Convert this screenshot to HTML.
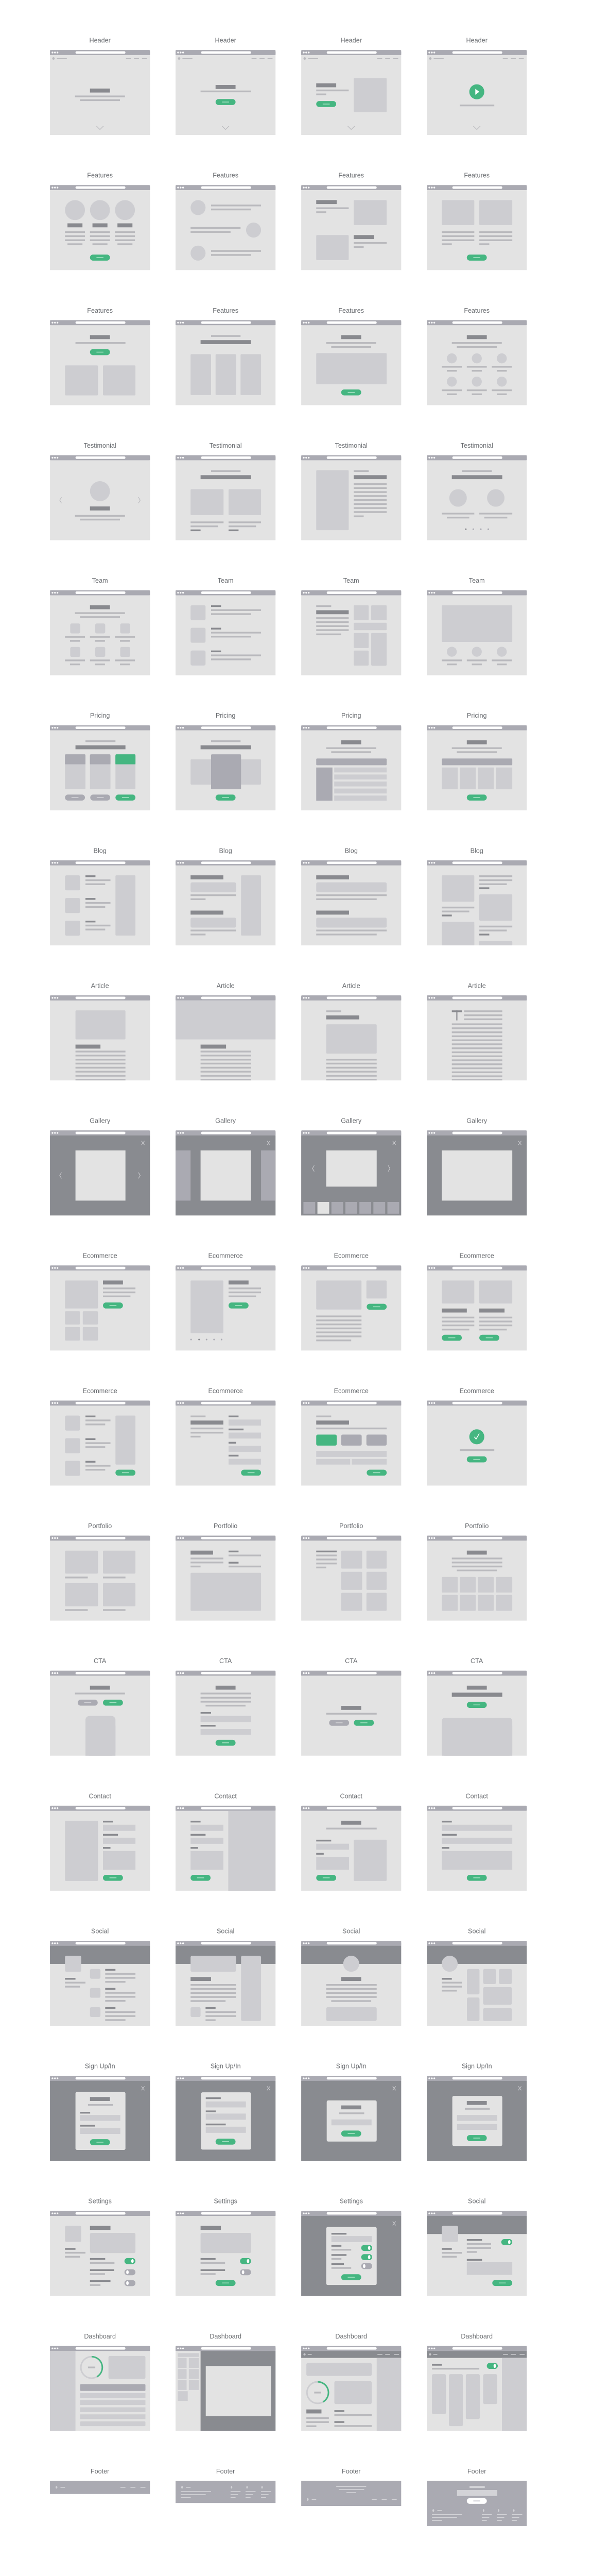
<!DOCTYPE html>
<html><head><meta charset="utf-8"><style>
html,body{margin:0;padding:0;background:#fff;width:100%;height:100%;overflow:hidden}
svg{display:block;position:fixed;left:0;top:0;width:100vw;height:100vh}
.w{fill:#e3e3e3}.b{fill:#aaaab2}.d{fill:#898a8f}.l{fill:#b9b9bd}.p{fill:#cdcdd1}.g{fill:#45b681}.o{fill:#898b90}.lt{fill:#d3d3d7}
text{font-family:"Liberation Sans",sans-serif;font-size:13px;fill:#6b6e72;text-anchor:middle}
</style></head><body>
<svg viewBox="0 0 1150 5150" preserveAspectRatio="xMinYMin meet" xmlns="http://www.w3.org/2000/svg">
<defs>
<g id="c"><rect class="w" width="200" height="170"/><rect class="b" width="200" height="10" rx="2"/><rect class="b" y="4" width="200" height="6"/><circle cx="5" cy="5" r="1.7" fill="#fff"/><circle cx="10" cy="5" r="1.7" fill="#fff"/><circle cx="15" cy="5" r="1.7" fill="#fff"/><rect x="51" y="2.5" width="100" height="5" rx="2.5" fill="#fff"/></g>
<g id="n"><circle cx="7" cy="17" r="2.5" class="l"/><rect class="l" x="13.7" y="16.2" width="20" height="1.6"/><rect class="l" x="152" y="16.2" width="10" height="1.6"/><rect class="l" x="168" y="16.2" width="10" height="1.6"/><rect class="l" x="184" y="16.2" width="10" height="1.6"/></g>
<g id="dn"><rect class="o" x="0" y="10" width="200" height="14"/><circle cx="6.6" cy="17" r="2.2" fill="#c9c9cc"/><rect fill="#c9c9cc" x="13" y="16.2" width="8" height="1.6"/><rect fill="#c9c9cc" x="152.5" y="16.2" width="10" height="1.6"/><rect fill="#c9c9cc" x="168" y="16.2" width="10" height="1.6"/><rect fill="#c9c9cc" x="185.7" y="16.2" width="10" height="1.6"/></g>
<g id="bg"><rect class="g" width="40" height="12" rx="6"/><rect x="13" y="5.2" width="14" height="1.6" fill="#a8e2c5"/></g>
<g id="bb"><rect class="b" width="40" height="12" rx="6"/><rect x="13" y="5.2" width="14" height="1.6" fill="#d4d4d8"/></g>
<path id="ch" d="M93 152 L100 159 L107 152" fill="none" stroke="#b9b9bd" stroke-width="1.2"/>
<path id="x" d="M183 21 L189 29 M189 21 L183 29" stroke="#c8c8cc" stroke-width="1.2" fill="none"/>
<g id="ton"><rect class="g" width="22" height="12" rx="6"/><ellipse cx="16" cy="6" rx="2.5" ry="4" fill="#fff"/></g>
<g id="tof"><rect class="b" width="22" height="12" rx="6"/><ellipse cx="6" cy="6" rx="2.5" ry="4" fill="#fff"/></g>
<path id="cl" d="M23 84 L19.5 90 L23 96" fill="none" stroke="#b9b9bd" stroke-width="1.2"/>
<path id="cr" d="M177 84 L180.5 90 L177 96" fill="none" stroke="#b9b9bd" stroke-width="1.2"/>
</defs>

<text x="200" y="85">Header</text><text x="451.3" y="85">Header</text><text x="702.7" y="85">Header</text><text x="954" y="85">Header</text>
<g transform="translate(100 100)"><use href="#c"/><use href="#n"/><rect class="d" x="80" y="77" width="40" height="8"/><rect class="l" x="50" y="91" width="100" height="3.5"/><rect class="l" x="60" y="98.5" width="80" height="3.5"/><use href="#ch"/></g>
<g transform="translate(351.3 100)"><use href="#c"/><use href="#n"/><rect class="d" x="80" y="70" width="40" height="8"/><rect class="l" x="50" y="81" width="101" height="3.5"/><use href="#bg" x="80" y="98"/><use href="#ch"/></g>
<g transform="translate(602.7 100)"><use href="#c"/><use href="#n"/><rect class="d" x="30" y="66.5" width="40" height="8"/><rect class="l" x="30" y="79" width="65" height="3.5"/><rect class="l" x="30" y="87" width="20" height="3.5"/><use href="#bg" x="30" y="102"/><rect class="p" x="105" y="56" width="66" height="68" rx="2"/><use href="#ch"/></g>
<g transform="translate(854 100)"><use href="#c"/><use href="#n"/><circle class="g" cx="100" cy="83.5" r="15"/><polygon points="97,77.5 97,89.5 105,83.5" fill="#fff"/><rect class="l" x="66" y="109" width="69" height="3.5"/><use href="#ch"/></g>

<text x="200" y="355">Features</text><text x="451.3" y="355">Features</text><text x="702.7" y="355">Features</text><text x="954" y="355">Features</text>
<g transform="translate(100 370)"><use href="#c"/>
<circle class="p" cx="50" cy="50" r="20"/><circle class="p" cx="100" cy="50" r="20"/><circle class="p" cx="150" cy="50" r="20"/>
<rect class="d" x="35" y="76.5" width="30" height="8"/><rect class="d" x="85" y="76.5" width="30" height="8"/><rect class="d" x="135" y="76.5" width="30" height="8"/>
<rect class="l" x="30" y="92.3" width="40" height="3.5"/><rect class="l" x="80" y="92.3" width="40" height="3.5"/><rect class="l" x="130" y="92.3" width="40" height="3.5"/>
<rect class="l" x="30" y="100.4" width="40" height="3.5"/><rect class="l" x="80" y="100.4" width="40" height="3.5"/><rect class="l" x="130" y="100.4" width="40" height="3.5"/>
<rect class="l" x="30" y="108.5" width="40" height="3.5"/><rect class="l" x="80" y="108.5" width="40" height="3.5"/><rect class="l" x="130" y="108.5" width="40" height="3.5"/>
<rect class="l" x="35" y="116.5" width="30" height="3.5"/><rect class="l" x="85" y="116.5" width="30" height="3.5"/><rect class="l" x="135" y="116.5" width="30" height="3.5"/>
<use href="#bg" x="80" y="139"/></g>
<g transform="translate(351.3 370)"><use href="#c"/>
<circle class="p" cx="45" cy="45" r="15"/><rect class="l" x="71" y="39" width="100" height="3.5"/><rect class="l" x="71" y="47" width="80" height="3.5"/>
<rect class="l" x="30" y="84" width="100" height="3.5"/><rect class="l" x="30" y="92" width="80" height="3.5"/><circle class="p" cx="156" cy="90" r="15"/>
<circle class="p" cx="45" cy="136" r="15"/><rect class="l" x="71" y="130" width="100" height="3.5"/><rect class="l" x="71" y="138" width="80" height="3.5"/></g>
<g transform="translate(602.7 370)"><use href="#c"/>
<rect class="d" x="30" y="30" width="41" height="8"/><rect class="l" x="30" y="44.5" width="65" height="3.5"/><rect class="l" x="30" y="52.5" width="20" height="3.5"/><rect class="p" x="105" y="30" width="66" height="50" rx="2"/>
<rect class="p" x="30" y="100" width="65" height="50" rx="2"/><rect class="d" x="105" y="100" width="41" height="8"/><rect class="l" x="105" y="114" width="66" height="3.5"/><rect class="l" x="105" y="122" width="20" height="3.5"/></g>
<g transform="translate(854 370)"><use href="#c"/>
<rect class="p" x="30" y="30" width="65" height="50" rx="2"/><rect class="p" x="105" y="30" width="66" height="50" rx="2"/>
<rect class="l" x="30" y="92.3" width="65" height="3.5"/><rect class="l" x="105" y="92.3" width="66" height="3.5"/>
<rect class="l" x="30" y="100.4" width="65" height="3.5"/><rect class="l" x="105" y="100.4" width="66" height="3.5"/>
<rect class="l" x="30" y="108.5" width="65" height="3.5"/><rect class="l" x="105" y="108.5" width="66" height="3.5"/>
<rect class="l" x="30" y="116.5" width="20" height="3.5"/><rect class="l" x="105" y="116.5" width="20" height="3.5"/>
<use href="#bg" x="80" y="139"/></g>

<text x="200" y="625">Features</text><text x="451.3" y="625">Features</text><text x="702.7" y="625">Features</text><text x="954" y="625">Features</text>
<g transform="translate(100 640)"><use href="#c"/>
<rect class="d" x="80" y="30" width="40" height="8"/><rect class="l" x="51" y="44" width="100" height="3.5"/><use href="#bg" x="80" y="58"/>
<rect class="p" x="30" y="90.5" width="66" height="60" rx="2"/><rect class="p" x="106" y="90.5" width="65" height="60" rx="2"/></g>
<g transform="translate(351.3 640)"><use href="#c"/>
<rect class="l" x="71" y="30" width="59" height="3.5"/><rect class="d" x="50" y="40" width="101" height="8"/>
<rect class="p" x="30" y="68" width="41" height="82" rx="2"/><rect class="p" x="80" y="68" width="41" height="82" rx="2"/><rect class="p" x="130" y="68" width="41" height="82" rx="2"/></g>
<g transform="translate(602.7 640)"><use href="#c"/>
<rect class="d" x="80" y="30" width="40" height="8"/><rect class="l" x="50" y="44" width="100" height="3.5"/><rect class="l" x="60" y="52" width="80" height="3.5"/>
<rect class="p" x="30" y="66" width="141" height="62" rx="2"/><use href="#bg" x="80" y="138.5"/></g>
<g transform="translate(854 640)"><use href="#c"/>
<rect class="d" x="80" y="30" width="40" height="8"/><rect class="l" x="50" y="44" width="100" height="3.5"/><rect class="l" x="60" y="52" width="80" height="3.5"/>
<circle class="p" cx="50" cy="76.5" r="10"/><circle class="p" cx="100" cy="76.5" r="10"/><circle class="p" cx="150" cy="76.5" r="10"/>
<rect class="l" x="30" y="91.5" width="40" height="3.5"/><rect class="l" x="80" y="91.5" width="40" height="3.5"/><rect class="l" x="130" y="91.5" width="40" height="3.5"/>
<rect class="l" x="40" y="99.5" width="20" height="3.5"/><rect class="l" x="90" y="99.5" width="20" height="3.5"/><rect class="l" x="140" y="99.5" width="20" height="3.5"/>
<circle class="p" cx="50" cy="123" r="10"/><circle class="p" cx="100" cy="123" r="10"/><circle class="p" cx="150" cy="123" r="10"/>
<rect class="l" x="30" y="138.5" width="40" height="3.5"/><rect class="l" x="80" y="138.5" width="40" height="3.5"/><rect class="l" x="130" y="138.5" width="40" height="3.5"/>
<rect class="l" x="40" y="146.5" width="20" height="3.5"/><rect class="l" x="90" y="146.5" width="20" height="3.5"/><rect class="l" x="140" y="146.5" width="20" height="3.5"/></g>

<text x="200" y="895">Testimonial</text><text x="451.3" y="895">Testimonial</text><text x="702.7" y="895">Testimonial</text><text x="954" y="895">Testimonial</text>
<g transform="translate(100 910)"><use href="#c"/><use href="#cl"/><use href="#cr"/>
<circle class="p" cx="100" cy="72" r="20"/><rect class="d" x="80" y="102.5" width="40" height="8"/><rect class="l" x="50" y="119.5" width="100" height="3.5"/><rect class="l" x="60" y="127" width="80" height="3.5"/></g>
<g transform="translate(351.3 910)"><use href="#c"/>
<rect class="l" x="71" y="30" width="59" height="3.5"/><rect class="d" x="50" y="40" width="101" height="8"/>
<rect class="p" x="30" y="68" width="66" height="52" rx="2"/><rect class="p" x="106" y="68" width="65" height="52" rx="2"/>
<rect class="l" x="30" y="132.5" width="66" height="3.5"/><rect class="l" x="106" y="132.5" width="65" height="3.5"/>
<rect class="l" x="30" y="140.5" width="55" height="3.5"/><rect class="l" x="106" y="140.5" width="55" height="3.5"/>
<rect class="d" x="30" y="148.5" width="20" height="3.5"/><rect class="d" x="106" y="148.5" width="20" height="3.5"/></g>
<g transform="translate(602.7 910)"><use href="#c"/>
<rect class="p" x="30" y="30" width="65" height="120" rx="2"/><rect class="l" x="105" y="30" width="30" height="3.5"/><rect class="d" x="105" y="40" width="66" height="8"/>
<rect class="l" x="105" y="56" width="66" height="3.5"/><rect class="l" x="105" y="64" width="66" height="3.5"/><rect class="l" x="105" y="72" width="66" height="3.5"/><rect class="l" x="105" y="80" width="66" height="3.5"/>
<rect class="l" x="105" y="88" width="66" height="3.5"/><rect class="l" x="105" y="96" width="66" height="3.5"/><rect class="l" x="105" y="104" width="66" height="3.5"/><rect class="l" x="105" y="112" width="66" height="3.5"/>
<rect class="l" x="105" y="120.5" width="20" height="3.5"/></g>
<g transform="translate(854 910)"><use href="#c"/>
<rect class="l" x="70" y="30" width="60" height="3.5"/><rect class="d" x="50" y="40" width="101" height="8"/>
<circle class="p" cx="62.5" cy="85.5" r="17.5"/><circle class="p" cx="138" cy="85.5" r="17.5"/>
<rect class="l" x="30" y="115" width="65" height="3.5"/><rect class="l" x="105" y="115" width="66" height="3.5"/>
<rect class="l" x="40" y="123" width="45" height="3.5"/><rect class="l" x="115" y="123" width="46" height="3.5"/>
<circle class="d" cx="78" cy="148" r="1.6"/><circle class="b" cx="93" cy="148" r="1.6"/><circle class="b" cx="108" cy="148" r="1.6"/><circle class="b" cx="123" cy="148" r="1.6"/></g>

<text x="200" y="1165">Team</text><text x="451.3" y="1165">Team</text><text x="702.7" y="1165">Team</text><text x="954" y="1165">Team</text>
<g transform="translate(100 1180)"><use href="#c"/>
<rect class="d" x="80" y="30" width="40" height="8"/><rect class="l" x="50" y="44" width="100" height="3.5"/><rect class="l" x="60" y="52" width="80" height="3.5"/>
<rect class="p" x="40.5" y="66.4" width="20" height="20" rx="3"/><rect class="p" x="90.5" y="66.4" width="20" height="20" rx="3"/><rect class="p" x="140.5" y="66.4" width="20" height="20" rx="3"/>
<rect class="l" x="30" y="91.5" width="40" height="3.5"/><rect class="l" x="80" y="91.5" width="40" height="3.5"/><rect class="l" x="130" y="91.5" width="40" height="3.5"/>
<rect class="l" x="40" y="99.5" width="20" height="3.5"/><rect class="l" x="90" y="99.5" width="20" height="3.5"/><rect class="l" x="140" y="99.5" width="20" height="3.5"/>
<rect class="p" x="40.5" y="113.4" width="20" height="20" rx="3"/><rect class="p" x="90.5" y="113.4" width="20" height="20" rx="3"/><rect class="p" x="140.5" y="113.4" width="20" height="20" rx="3"/>
<rect class="l" x="30" y="138.5" width="40" height="3.5"/><rect class="l" x="80" y="138.5" width="40" height="3.5"/><rect class="l" x="130" y="138.5" width="40" height="3.5"/>
<rect class="l" x="40" y="146.5" width="20" height="3.5"/><rect class="l" x="90" y="146.5" width="20" height="3.5"/><rect class="l" x="140" y="146.5" width="20" height="3.5"/></g>
<g transform="translate(351.3 1180)"><use href="#c"/>
<rect class="p" x="30" y="30" width="30" height="30" rx="3"/><rect class="d" x="71" y="30" width="20" height="3.5"/><rect class="l" x="71" y="38" width="100" height="3.5"/><rect class="l" x="71" y="46" width="80" height="3.5"/>
<rect class="p" x="30" y="75" width="30" height="30" rx="3"/><rect class="d" x="71" y="75" width="20" height="3.5"/><rect class="l" x="71" y="83" width="100" height="3.5"/><rect class="l" x="71" y="91" width="80" height="3.5"/>
<rect class="p" x="30" y="120.5" width="30" height="30" rx="3"/><rect class="d" x="71" y="120.5" width="20" height="3.5"/><rect class="l" x="71" y="128.5" width="100" height="3.5"/><rect class="l" x="71" y="136.5" width="80" height="3.5"/></g>
<g transform="translate(602.7 1180)"><use href="#c"/>
<rect class="l" x="30" y="30" width="30" height="3.5"/><rect class="d" x="30" y="40" width="65" height="8"/>
<rect class="l" x="30" y="54" width="65" height="3.5"/><rect class="l" x="30" y="62" width="65" height="3.5"/><rect class="l" x="30" y="70" width="65" height="3.5"/><rect class="l" x="30" y="78" width="65" height="3.5"/><rect class="l" x="30" y="86.5" width="50" height="3.5"/>
<rect class="p" x="105" y="30" width="30" height="30" rx="2"/><rect class="p" x="140" y="30" width="31" height="30" rx="2"/><rect class="p" x="105" y="65" width="66" height="15" rx="2"/>
<rect class="p" x="105" y="85.4" width="30" height="30.2" rx="2"/><rect class="p" x="140" y="85.4" width="31" height="65.3" rx="2"/><rect class="p" x="105" y="120.6" width="30" height="30" rx="2"/></g>
<g transform="translate(854 1180)"><use href="#c"/>
<rect class="p" x="30" y="30" width="141" height="73.4" rx="2"/>
<circle class="p" cx="50" cy="123" r="10"/><circle class="p" cx="100" cy="123" r="10"/><circle class="p" cx="150" cy="123" r="10"/>
<rect class="l" x="30" y="138.5" width="40" height="3.5"/><rect class="l" x="80" y="138.5" width="40" height="3.5"/><rect class="l" x="130" y="138.5" width="40" height="3.5"/>
<rect class="l" x="40" y="146.5" width="20" height="3.5"/><rect class="l" x="90" y="146.5" width="20" height="3.5"/><rect class="l" x="140" y="146.5" width="20" height="3.5"/></g>

<text x="200" y="1435">Pricing</text><text x="451.3" y="1435">Pricing</text><text x="702.7" y="1435">Pricing</text><text x="954" y="1435">Pricing</text>
<g transform="translate(100 1450)"><use href="#c"/>
<rect class="l" x="71" y="30" width="60" height="3.5"/><rect class="d" x="51" y="40" width="100" height="8"/>
<rect class="p" x="30" y="58" width="41" height="70" rx="2"/><rect class="b" x="30" y="58" width="41" height="20" rx="2"/><rect class="b" x="30" y="62" width="41" height="16"/>
<rect class="p" x="80" y="58" width="41" height="70" rx="2"/><rect class="b" x="80" y="58" width="41" height="20" rx="2"/><rect class="b" x="80" y="62" width="41" height="16"/>
<rect class="p" x="131" y="58" width="40" height="70" rx="2"/><rect class="g" x="131" y="58" width="40" height="20" rx="2"/><rect class="g" x="131" y="62" width="40" height="16"/>
<use href="#bb" x="30" y="138.5"/><use href="#bb" x="80.5" y="138.5"/><use href="#bg" x="131" y="138.5"/></g>
<g transform="translate(351.3 1450)"><use href="#c"/>
<rect class="l" x="71" y="30" width="59" height="3.5"/><rect class="d" x="50" y="40" width="101" height="8"/>
<rect class="p" x="30" y="68" width="141" height="50.5" rx="2"/><rect class="b" x="71" y="58" width="60" height="70" rx="2"/><use href="#bg" x="80" y="138.5"/></g>
<g transform="translate(602.7 1450)"><use href="#c"/>
<rect class="d" x="80" y="30" width="40" height="8"/><rect class="l" x="50" y="44" width="100" height="3.5"/><rect class="l" x="60" y="52" width="80" height="3.5"/>
<rect class="b" x="30" y="66.4" width="141" height="13.6" rx="2"/><rect class="b" x="30" y="84.4" width="32.5" height="66.3"/>
<rect class="p" x="66" y="84.4" width="105" height="9.9"/><rect class="p" x="66" y="98.4" width="105" height="9.9"/><rect class="p" x="66" y="112.4" width="105" height="9.9"/><rect class="p" x="66" y="126.5" width="105" height="9.9"/><rect class="p" x="66" y="140.5" width="105" height="10.2"/></g>
<g transform="translate(854 1450)"><use href="#c"/>
<rect class="d" x="80" y="30" width="40" height="8"/><rect class="l" x="50" y="44" width="100" height="3.5"/><rect class="l" x="60" y="52" width="80" height="3.5"/>
<rect class="b" x="30" y="66.4" width="141" height="13.6" rx="2"/>
<rect class="p" x="30" y="84.4" width="32" height="43.6"/><rect class="p" x="66" y="84.4" width="32" height="43.6"/><rect class="p" x="102" y="84.4" width="32" height="43.6"/><rect class="p" x="138.5" y="84.4" width="32.5" height="43.6"/>
<use href="#bg" x="80" y="138.5"/></g>

<text x="200" y="1705">Blog</text><text x="451.3" y="1705">Blog</text><text x="702.7" y="1705">Blog</text><text x="954" y="1705">Blog</text>
<g transform="translate(100 1720)"><use href="#c"/>
<rect class="p" x="30" y="30" width="30.4" height="30" rx="3"/><rect class="d" x="71" y="30" width="20" height="3.5"/><rect class="l" x="71" y="38" width="50" height="3.5"/><rect class="l" x="71" y="46" width="39.5" height="3.5"/>
<rect class="p" x="30" y="75.4" width="30.4" height="30" rx="3"/><rect class="d" x="71" y="75.4" width="20" height="3.5"/><rect class="l" x="71" y="83.4" width="50" height="3.5"/><rect class="l" x="71" y="91.4" width="39.5" height="3.5"/>
<rect class="p" x="30" y="120.6" width="30.4" height="30" rx="3"/><rect class="d" x="71" y="120.6" width="20" height="3.5"/><rect class="l" x="71" y="128.6" width="50" height="3.5"/><rect class="l" x="71" y="136.6" width="39.5" height="3.5"/>
<rect class="p" x="131" y="30" width="40" height="120.4" rx="2"/></g>
<g transform="translate(351.3 1720)"><use href="#c"/>
<rect class="d" x="30" y="30" width="65.6" height="8"/><rect class="p" x="30" y="44" width="91" height="20" rx="3"/><rect class="l" x="30" y="68" width="91" height="3.5"/><rect class="l" x="30" y="76" width="30" height="3.5"/>
<rect class="d" x="30" y="100.5" width="65.6" height="8"/><rect class="p" x="30" y="114.5" width="91" height="20" rx="3"/><rect class="l" x="30" y="138.5" width="91" height="3.5"/><rect class="l" x="30" y="146.5" width="30" height="3.5"/>
<rect class="p" x="131" y="30" width="40" height="120.4" rx="2"/></g>
<g transform="translate(602.7 1720)"><use href="#c"/>
<rect class="d" x="30" y="30" width="65.6" height="8"/><rect class="p" x="30" y="44" width="141" height="20" rx="3"/><rect class="l" x="30" y="68" width="141" height="3.5"/><rect class="l" x="30" y="76" width="121" height="3.5"/>
<rect class="d" x="30" y="100.5" width="65.6" height="8"/><rect class="p" x="30" y="114.5" width="141" height="20" rx="3"/><rect class="l" x="30" y="138.5" width="141" height="3.5"/><rect class="l" x="30" y="146.5" width="121" height="3.5"/></g>
<g transform="translate(854 1720)"><use href="#c"/>
<rect class="p" x="30" y="30" width="65" height="52.6" rx="2"/>
<rect class="l" x="105" y="30" width="66" height="3.5"/><rect class="l" x="105" y="38" width="66" height="3.5"/><rect class="l" x="105" y="46" width="55" height="3.5"/><rect class="d" x="105" y="54" width="20" height="3.5"/>
<rect class="p" x="105" y="68" width="66" height="52.6" rx="2"/>
<rect class="l" x="30" y="92.6" width="65" height="3.5"/><rect class="l" x="30" y="100.5" width="55" height="3.5"/><rect class="d" x="30" y="108.5" width="20" height="3.5"/>
<rect class="p" x="30" y="122.8" width="65" height="47.2" rx="2"/><rect class="p" x="30" y="130" width="65" height="40"/>
<rect class="l" x="105" y="130.6" width="66" height="3.5"/><rect class="l" x="105" y="138.5" width="55" height="3.5"/><rect class="d" x="105" y="146.6" width="20" height="3.5"/>
<rect class="p" x="105" y="160.8" width="66" height="9.2" rx="2"/><rect class="p" x="105" y="164" width="66" height="6"/></g>

<text x="200" y="1975">Article</text><text x="451.3" y="1975">Article</text><text x="702.7" y="1975">Article</text><text x="954" y="1975">Article</text>
<g transform="translate(100 1990)"><use href="#c"/>
<rect class="p" x="51" y="30" width="100" height="58" rx="2"/><rect class="d" x="51" y="98.4" width="50" height="8"/>
<rect class="l" x="51" y="110.5" width="100" height="3.5"/><rect class="l" x="51" y="118.5" width="100" height="3.5"/><rect class="l" x="51" y="126.7" width="100" height="3.5"/><rect class="l" x="51" y="134.6" width="100" height="3.5"/>
<rect class="l" x="51" y="142.8" width="100" height="3.5"/><rect class="l" x="51" y="150.7" width="100" height="3.5"/><rect class="l" x="51" y="159" width="100" height="3.5"/><rect class="l" x="51" y="167" width="100" height="3"/></g>
<g transform="translate(351.3 1990)"><use href="#c"/>
<rect class="p" x="0" y="10" width="200" height="78"/><rect class="d" x="50" y="98.4" width="51" height="8"/>
<rect class="l" x="50" y="110.5" width="101" height="3.5"/><rect class="l" x="50" y="118.5" width="101" height="3.5"/><rect class="l" x="50" y="126.7" width="101" height="3.5"/><rect class="l" x="50" y="134.6" width="101" height="3.5"/>
<rect class="l" x="50" y="142.8" width="101" height="3.5"/><rect class="l" x="50" y="150.7" width="101" height="3.5"/><rect class="l" x="50" y="159" width="101" height="3.5"/><rect class="l" x="50" y="167" width="101" height="3"/></g>
<g transform="translate(602.7 1990)"><use href="#c"/>
<rect class="l" x="50" y="30" width="30" height="3.5"/><rect class="d" x="50" y="40" width="66" height="8"/><rect class="p" x="50" y="57.8" width="101" height="58.5" rx="2"/>
<rect class="l" x="50" y="126.7" width="101" height="3.5"/><rect class="l" x="50" y="134.6" width="101" height="3.5"/><rect class="l" x="50" y="142.8" width="101" height="3.5"/><rect class="l" x="50" y="150.7" width="101" height="3.5"/><rect class="l" x="50" y="159" width="101" height="3.5"/><rect class="l" x="50" y="167" width="101" height="3"/></g>
<g transform="translate(854 1990)"><use href="#c"/>
<rect class="d" x="50" y="30" width="20" height="3.6"/><rect class="d" x="59" y="30" width="2.2" height="20"/>
<rect class="l" x="74.5" y="30" width="76.5" height="3.5"/><rect class="l" x="74.5" y="38" width="76.5" height="3.5"/><rect class="l" x="74.5" y="46" width="76.5" height="3.5"/>
<rect class="l" x="50" y="56" width="101" height="3.5"/><rect class="l" x="50" y="64" width="101" height="3.5"/><rect class="l" x="50" y="72" width="101" height="3.5"/><rect class="l" x="50" y="80" width="101" height="3.5"/>
<rect class="l" x="50" y="88" width="101" height="3.5"/><rect class="l" x="50" y="96" width="101" height="3.5"/><rect class="l" x="50" y="104" width="101" height="3.5"/><rect class="l" x="50" y="112" width="101" height="3.5"/>
<rect class="l" x="50" y="120" width="101" height="3.5"/><rect class="l" x="50" y="128" width="101" height="3.5"/><rect class="l" x="50" y="136" width="101" height="3.5"/><rect class="l" x="50" y="144" width="101" height="3.5"/>
<rect class="l" x="50" y="152" width="101" height="3.5"/><rect class="l" x="50" y="160" width="101" height="3.5"/><rect class="l" x="50" y="167" width="101" height="3"/></g>

<text x="200" y="2245">Gallery</text><text x="451.3" y="2245">Gallery</text><text x="702.7" y="2245">Gallery</text><text x="954" y="2245">Gallery</text>
<g transform="translate(100 2260)"><use href="#c"/><rect class="o" x="0" y="10" width="200" height="160"/><use href="#x"/>
<rect class="w" x="51" y="40" width="100" height="100.3"/>
<path d="M23 84 L19.5 90 L23 96 M177 84 L180.5 90 L177 96" fill="none" stroke="#c8c8cc" stroke-width="1.2"/></g>
<g transform="translate(351.3 2260)"><use href="#c"/><rect class="o" x="0" y="10" width="200" height="160"/><use href="#x"/>
<rect class="b" x="0" y="40" width="30" height="100.3"/><rect class="b" x="171" y="40" width="29" height="100.3"/><rect class="w" x="50" y="40" width="101" height="100.3"/></g>
<g transform="translate(602.7 2260)"><use href="#c"/><rect class="o" x="0" y="10" width="200" height="160"/><use href="#x"/>
<rect class="w" x="50" y="40" width="101" height="72.3"/>
<path d="M26 70 L22.5 76 L26 82 M174 70 L177.5 76 L174 82" fill="none" stroke="#c8c8cc" stroke-width="1.2"/>
<rect class="b" x="4.4" y="143" width="23.6" height="23.5"/><rect class="w" x="32.4" y="143" width="23.6" height="23.5"/><rect class="b" x="60.4" y="143" width="23.6" height="23.5"/><rect class="b" x="88.4" y="143" width="23.6" height="23.5"/><rect class="b" x="116.4" y="143" width="23.6" height="23.5"/><rect class="b" x="144.4" y="143" width="23.6" height="23.5"/><rect class="b" x="172.4" y="143" width="23.6" height="23.5"/></g>
<g transform="translate(854 2260)"><use href="#c"/><rect class="o" x="0" y="10" width="200" height="160"/><use href="#x"/>
<rect class="w" x="30" y="40" width="141" height="100.3"/></g>

<text x="200" y="2515">Ecommerce</text><text x="451.3" y="2515">Ecommerce</text><text x="702.7" y="2515">Ecommerce</text><text x="954" y="2515">Ecommerce</text>
<g transform="translate(100 2530)"><use href="#c"/>
<rect class="p" x="30" y="30" width="66" height="56" rx="2"/><rect class="d" x="106" y="30" width="40" height="8"/>
<rect class="l" x="106" y="44" width="65" height="3.5"/><rect class="l" x="106" y="52" width="65" height="3.5"/><rect class="l" x="106" y="60" width="55" height="3.5"/><use href="#bg" x="106" y="74"/>
<rect class="p" x="30" y="91.5" width="30" height="26.5" rx="2"/><rect class="p" x="65.6" y="91.5" width="30.4" height="26.5" rx="2"/>
<rect class="p" x="30" y="123" width="30" height="27" rx="2"/><rect class="p" x="65.6" y="123" width="30.4" height="27" rx="2"/></g>
<g transform="translate(351.3 2530)"><use href="#c"/>
<rect class="p" x="30" y="30" width="65.6" height="105.3" rx="2"/><rect class="d" x="106" y="30" width="40" height="8"/>
<rect class="l" x="106" y="44" width="65" height="3.5"/><rect class="l" x="106" y="52" width="65" height="3.5"/><rect class="l" x="106" y="60" width="55" height="3.5"/><use href="#bg" x="106" y="74"/>
<circle class="b" cx="31" cy="148" r="1.6"/><circle class="d" cx="47" cy="148" r="1.6"/><circle class="b" cx="62" cy="148" r="1.6"/><circle class="b" cx="77" cy="148" r="1.6"/><circle class="b" cx="92" cy="148" r="1.6"/></g>
<g transform="translate(602.7 2530)"><use href="#c"/>
<rect class="p" x="30" y="30" width="90.6" height="58" rx="2"/><rect class="p" x="130.4" y="30" width="40.6" height="36" rx="2"/><use href="#bg" x="131" y="76.5"/>
<rect class="l" x="30" y="100" width="90.6" height="3.5"/><rect class="l" x="30" y="108" width="90.6" height="3.5"/><rect class="l" x="30" y="116" width="90.6" height="3.5"/><rect class="l" x="30" y="124" width="90.6" height="3.5"/>
<rect class="l" x="30" y="132" width="90.6" height="3.5"/><rect class="l" x="30" y="140" width="90.6" height="3.5"/><rect class="l" x="30" y="148" width="70" height="3.5"/></g>
<g transform="translate(854 2530)"><use href="#c"/>
<rect class="p" x="30" y="30" width="65" height="46" rx="2"/><rect class="p" x="105" y="30" width="66" height="46" rx="2"/>
<rect class="d" x="30" y="86" width="50" height="8"/><rect class="d" x="105" y="86" width="50.5" height="8"/>
<rect class="l" x="30" y="102.3" width="65" height="3.5"/><rect class="l" x="105" y="102.3" width="66" height="3.5"/>
<rect class="l" x="30" y="110.2" width="65" height="3.5"/><rect class="l" x="105" y="110.2" width="66" height="3.5"/>
<rect class="l" x="30" y="118" width="65" height="3.5"/><rect class="l" x="105" y="118" width="66" height="3.5"/>
<rect class="l" x="30" y="126.3" width="55" height="3.5"/><rect class="l" x="105" y="126.3" width="55" height="3.5"/>
<use href="#bg" x="30" y="138.5"/><use href="#bg" x="105" y="138.5"/></g>

<text x="200" y="2785">Ecommerce</text><text x="451.3" y="2785">Ecommerce</text><text x="702.7" y="2785">Ecommerce</text><text x="954" y="2785">Ecommerce</text>
<g transform="translate(100 2800)"><use href="#c"/>
<rect class="p" x="30" y="30" width="30.4" height="30" rx="3"/><rect class="d" x="71" y="30" width="20" height="3.5"/><rect class="l" x="71" y="38" width="50" height="3.5"/><rect class="l" x="71" y="46" width="39.5" height="3.5"/>
<rect class="p" x="30" y="75.4" width="30.4" height="30" rx="3"/><rect class="d" x="71" y="75.4" width="20" height="3.5"/><rect class="l" x="71" y="83.4" width="50" height="3.5"/><rect class="l" x="71" y="91.4" width="39.5" height="3.5"/>
<rect class="p" x="30" y="120.6" width="30.4" height="30" rx="3"/><rect class="d" x="71" y="120.6" width="20" height="3.5"/><rect class="l" x="71" y="128.6" width="50" height="3.5"/><rect class="l" x="71" y="136.6" width="39.5" height="3.5"/>
<rect class="p" x="131" y="30" width="40" height="98" rx="2"/><use href="#bg" x="131" y="138.2"/></g>
<g transform="translate(351.3 2800)"><use href="#c"/>
<rect class="l" x="30" y="30" width="30" height="3.5"/><rect class="d" x="30" y="40" width="65.6" height="8"/>
<rect class="l" x="30" y="54" width="65.6" height="3.5"/><rect class="l" x="30" y="62.4" width="65.6" height="3.5"/><rect class="l" x="30" y="70.4" width="20" height="3.5"/>
<rect class="d" x="106" y="30" width="20" height="3.5"/><rect class="p" x="106" y="38" width="65" height="12"/>
<rect class="d" x="106" y="56" width="30" height="3.5"/><rect class="p" x="106" y="64" width="65" height="12"/>
<rect class="d" x="106" y="82.6" width="15" height="3.5"/><rect class="p" x="106" y="90.5" width="65" height="12"/>
<rect class="d" x="106" y="108.4" width="20" height="3.5"/><rect class="p" x="106" y="116.5" width="65" height="11.5"/>
<use href="#bg" x="131" y="138.2"/></g>
<g transform="translate(602.7 2800)"><use href="#c"/>
<rect class="l" x="30" y="30" width="30" height="3.5"/><rect class="d" x="30" y="40" width="65.6" height="8"/><rect class="l" x="30" y="54" width="141" height="3.5"/>
<rect class="g" x="30" y="68" width="41" height="22" rx="3"/><rect class="b" x="80" y="68" width="41" height="22" rx="3"/><rect class="b" x="130.4" y="68" width="40.6" height="22" rx="3"/>
<rect class="p" x="30" y="100.5" width="141" height="12.2"/><rect class="p" x="30" y="116.7" width="68" height="11.3"/><rect class="p" x="101" y="116.7" width="70" height="11.3"/>
<use href="#bg" x="131" y="138.2"/></g>
<g transform="translate(854 2800)"><use href="#c"/>
<circle class="g" cx="100" cy="72.5" r="15"/><path d="M95 72.5 L98.5 77 L105 66" fill="none" stroke="#fff" stroke-width="1.5"/>
<rect class="l" x="66" y="97.3" width="69" height="3.5"/><use href="#bg" x="80" y="111.6"/></g>

<text x="200" y="3055">Portfolio</text><text x="451.3" y="3055">Portfolio</text><text x="702.7" y="3055">Portfolio</text><text x="954" y="3055">Portfolio</text>
<g transform="translate(100 3070)"><use href="#c"/>
<rect class="p" x="30" y="30" width="66" height="46" rx="2"/><rect class="p" x="106" y="30" width="65" height="46" rx="2"/>
<rect class="l" x="30" y="82" width="45.6" height="3.5"/><rect class="l" x="106" y="82" width="45" height="3.5"/>
<rect class="p" x="30" y="95" width="66" height="46.4" rx="2"/><rect class="p" x="106" y="95" width="65" height="46.4" rx="2"/>
<rect class="l" x="30" y="147" width="45.6" height="3.5"/><rect class="l" x="106" y="147" width="45" height="3.5"/></g>
<g transform="translate(351.3 3070)"><use href="#c"/>
<rect class="d" x="30" y="30" width="45" height="8"/><rect class="l" x="30" y="44" width="65.6" height="3.5"/><rect class="l" x="30" y="52" width="65.6" height="3.5"/><rect class="l" x="30" y="60" width="20" height="3.5"/>
<rect class="d" x="106" y="30" width="20" height="3.5"/><rect class="l" x="106" y="38" width="65" height="3.5"/><rect class="d" x="106" y="52.4" width="20" height="3.5"/><rect class="l" x="106" y="60" width="65" height="3.5"/>
<rect class="p" x="30" y="74.3" width="141" height="76.1" rx="2"/></g>
<g transform="translate(602.7 3070)"><use href="#c"/>
<rect class="d" x="30" y="30" width="41" height="3.5"/><rect class="l" x="30" y="38" width="41" height="3.5"/><rect class="l" x="30" y="46" width="41" height="3.5"/><rect class="l" x="30" y="54" width="41" height="3.5"/><rect class="l" x="30" y="62" width="20" height="3.5"/>
<rect class="p" x="80" y="30" width="42" height="36" rx="2"/><rect class="p" x="130.5" y="30" width="40.5" height="36" rx="2"/>
<rect class="p" x="80" y="72.3" width="42" height="36.1" rx="2"/><rect class="p" x="130.5" y="72.3" width="40.5" height="36.1" rx="2"/>
<rect class="p" x="80" y="114.4" width="42" height="36" rx="2"/><rect class="p" x="130.5" y="114.4" width="40.5" height="36" rx="2"/></g>
<g transform="translate(854 3070)"><use href="#c"/>
<rect class="d" x="80" y="30" width="40" height="8"/><rect class="l" x="50" y="44" width="101" height="3.5"/><rect class="l" x="50" y="52" width="101" height="3.5"/><rect class="l" x="50" y="60" width="101" height="3.5"/><rect class="l" x="60" y="68" width="80" height="3.5"/>
<rect class="p" x="30" y="82.6" width="32" height="31.4" rx="2"/><rect class="p" x="66" y="82.6" width="32" height="31.4" rx="2"/><rect class="p" x="102" y="82.6" width="32" height="31.4" rx="2"/><rect class="p" x="138.5" y="82.6" width="32.5" height="31.4" rx="2"/>
<rect class="p" x="30" y="118.5" width="32" height="31.9" rx="2"/><rect class="p" x="66" y="118.5" width="32" height="31.9" rx="2"/><rect class="p" x="102" y="118.5" width="32" height="31.9" rx="2"/><rect class="p" x="138.5" y="118.5" width="32.5" height="31.9" rx="2"/></g>

<text x="200" y="3325">CTA</text><text x="451.3" y="3325">CTA</text><text x="702.7" y="3325">CTA</text><text x="954" y="3325">CTA</text>
<g transform="translate(100 3340)"><use href="#c"/>
<rect class="d" x="80" y="30" width="40" height="8"/><rect class="l" x="50" y="44" width="100" height="3.5"/>
<use href="#bb" x="55.5" y="58"/><use href="#bg" x="106" y="58"/>
<rect class="p" x="71" y="90.5" width="60" height="79.5" rx="8"/><rect class="p" x="71" y="110" width="60" height="60"/></g>
<g transform="translate(351.3 3340)"><use href="#c"/>
<rect class="d" x="80" y="30" width="40" height="8"/><rect class="l" x="50" y="44" width="101" height="3.5"/><rect class="l" x="50" y="52.4" width="101" height="3.5"/><rect class="l" x="50" y="60.3" width="101" height="3.5"/><rect class="l" x="60" y="68.2" width="80" height="3.5"/>
<rect class="d" x="50" y="82.6" width="21" height="3.5"/><rect class="p" x="50" y="90.5" width="101" height="12.2"/>
<rect class="d" x="50" y="108.4" width="30" height="3.5"/><rect class="p" x="50" y="116.7" width="101" height="11.3"/>
<use href="#bg" x="80" y="138.2"/></g>
<g transform="translate(602.7 3340)"><use href="#c"/>
<rect class="d" x="80" y="70.4" width="40" height="8"/><rect class="l" x="50" y="84.4" width="101" height="3.5"/>
<use href="#bb" x="55.8" y="98.3"/><use href="#bg" x="105.4" y="98.3"/></g>
<g transform="translate(854 3340)"><use href="#c"/>
<rect class="d" x="80" y="30" width="40" height="8"/><rect class="d" x="50" y="44" width="101" height="8.4"/><use href="#bg" x="80" y="62.5"/>
<rect class="p" x="30" y="94.4" width="141" height="75.6" rx="6"/><rect class="p" x="30" y="110" width="141" height="60"/></g>

<text x="200" y="3595">Contact</text><text x="451.3" y="3595">Contact</text><text x="702.7" y="3595">Contact</text><text x="954" y="3595">Contact</text>
<g transform="translate(100 3610)"><use href="#c"/>
<rect class="p" x="30" y="30" width="66" height="120.4" rx="2"/>
<rect class="d" x="106" y="30" width="20" height="3.5"/><rect class="p" x="106" y="38" width="65" height="12.3"/>
<rect class="d" x="106" y="56.4" width="30" height="3.5"/><rect class="p" x="106" y="64" width="65" height="12.2"/>
<rect class="d" x="106" y="82.6" width="15" height="3.5"/><rect class="p" x="106" y="90.5" width="65" height="37.5"/>
<use href="#bg" x="106" y="138.2"/></g>
<g transform="translate(351.3 3610)"><use href="#c"/>
<rect class="p" x="105.4" y="10" width="94.6" height="160"/>
<rect class="d" x="30" y="30" width="20" height="3.5"/><rect class="p" x="30" y="38" width="65.6" height="12.3"/>
<rect class="d" x="30" y="56.4" width="30" height="3.5"/><rect class="p" x="30" y="64" width="65.6" height="12.2"/>
<rect class="d" x="30" y="82.6" width="15" height="3.5"/><rect class="p" x="30" y="90.5" width="65.6" height="37.5"/>
<use href="#bg" x="30" y="138.2"/></g>
<g transform="translate(602.7 3610)"><use href="#c"/>
<rect class="d" x="80" y="30" width="40" height="8"/><rect class="l" x="50" y="44" width="101" height="3.5"/>
<rect class="d" x="30" y="68" width="30" height="3.5"/><rect class="p" x="30" y="76" width="65.6" height="12"/>
<rect class="d" x="30" y="94.4" width="15" height="3.5"/><rect class="p" x="30" y="102.3" width="65.6" height="25.7"/>
<use href="#bg" x="30" y="138.2"/><rect class="p" x="105" y="68" width="66" height="82.4" rx="2"/></g>
<g transform="translate(854 3610)"><use href="#c"/>
<rect class="d" x="30" y="30" width="20" height="3.5"/><rect class="p" x="30" y="38" width="141" height="12.3"/>
<rect class="d" x="30" y="56.4" width="30" height="3.5"/><rect class="p" x="30" y="64" width="141" height="12.2"/>
<rect class="d" x="30" y="82.6" width="15" height="3.5"/><rect class="p" x="30" y="90.5" width="141" height="37.5"/>
<use href="#bg" x="80" y="138.2"/></g>

<text x="200" y="3865">Social</text><text x="451.3" y="3865">Social</text><text x="702.7" y="3865">Social</text><text x="954" y="3865">Social</text>
<g transform="translate(100 3880)"><use href="#c"/><rect class="o" x="0" y="10" width="200" height="36.3"/>
<rect class="p" x="30" y="30" width="32.6" height="32" rx="3"/>
<rect class="d" x="30" y="74.3" width="21" height="3.5"/><rect class="l" x="30" y="82" width="41" height="3.5"/><rect class="l" x="30" y="90" width="30" height="3.5"/>
<rect class="p" x="80" y="56.4" width="21" height="19.6" rx="3"/><rect class="d" x="110.5" y="56.4" width="20.5" height="3.5"/><rect class="l" x="110.5" y="64.4" width="60.5" height="3.5"/><rect class="l" x="110.5" y="72.4" width="60.5" height="3.5"/><rect class="l" x="110.5" y="80.4" width="40.5" height="3.5"/>
<rect class="p" x="80" y="94.4" width="21" height="19.6" rx="3"/><rect class="d" x="110.5" y="94.4" width="20.5" height="3.5"/><rect class="l" x="110.5" y="102.4" width="60.5" height="3.5"/><rect class="l" x="110.5" y="110.4" width="60.5" height="3.5"/><rect class="l" x="110.5" y="118.4" width="40.5" height="3.5"/>
<rect class="p" x="80" y="132.8" width="21" height="19.6" rx="3"/><rect class="d" x="110.5" y="132.8" width="20.5" height="3.5"/><rect class="l" x="110.5" y="140.8" width="60.5" height="3.5"/><rect class="l" x="110.5" y="148.8" width="60.5" height="3.5"/><rect class="l" x="110.5" y="156.8" width="40.5" height="3.5"/></g>
<g transform="translate(351.3 3880)"><use href="#c"/><rect class="o" x="0" y="10" width="200" height="36.3"/>
<rect class="p" x="30" y="30" width="91" height="32" rx="3"/><rect class="p" x="131" y="30" width="40" height="130.4" rx="3"/>
<rect class="d" x="30" y="72.5" width="41" height="7.9"/>
<rect class="l" x="30" y="86.5" width="91" height="3.5"/><rect class="l" x="30" y="94.6" width="91" height="3.5"/><rect class="l" x="30" y="102.7" width="91" height="3.5"/><rect class="l" x="30" y="110.7" width="91" height="3.5"/><rect class="l" x="30" y="118.8" width="70" height="3.5"/>
<rect class="p" x="30" y="132.8" width="20" height="19.7" rx="3"/><rect class="d" x="60" y="132.8" width="20" height="3.5"/><rect class="l" x="60" y="140.8" width="61" height="3.5"/><rect class="l" x="60" y="148.8" width="61" height="3.5"/><rect class="l" x="60" y="157" width="20" height="3.5"/></g>
<g transform="translate(602.7 3880)"><use href="#c"/><rect class="o" x="0" y="10" width="200" height="36.3"/>
<circle class="p" cx="100" cy="46" r="16"/><rect class="d" x="80" y="72.5" width="40" height="7.9"/>
<rect class="l" x="50" y="86.5" width="101" height="3.5"/><rect class="l" x="50" y="94.6" width="101" height="3.5"/><rect class="l" x="50" y="102.7" width="101" height="3.5"/><rect class="l" x="50" y="110.7" width="101" height="3.5"/><rect class="l" x="60" y="118.8" width="80" height="3.5"/>
<rect class="p" x="50" y="132.8" width="101" height="27.6" rx="3"/></g>
<g transform="translate(854 3880)"><use href="#c"/><rect class="o" x="0" y="10" width="200" height="36.3"/>
<circle class="p" cx="45.7" cy="46" r="16"/>
<rect class="d" x="30" y="74.3" width="20" height="3.5"/><rect class="l" x="30" y="82" width="40" height="3.5"/><rect class="l" x="30" y="90" width="40" height="3.5"/><rect class="l" x="30" y="98" width="30" height="3.5"/>
<rect class="p" x="80.3" y="56.4" width="25.1" height="50.9" rx="3"/><rect class="p" x="112.7" y="56.4" width="25.8" height="30.1" rx="3"/><rect class="p" x="144.4" y="56.4" width="25.8" height="30.1" rx="3"/>
<rect class="p" x="112.7" y="92.6" width="57.5" height="35.4" rx="3"/><rect class="p" x="80.3" y="113.4" width="25.1" height="47" rx="3"/><rect class="p" x="112.7" y="134.6" width="57.5" height="25.8" rx="3"/></g>

<text x="200" y="4135">Sign Up/In</text><text x="451.3" y="4135">Sign Up/In</text><text x="702.7" y="4135">Sign Up/In</text><text x="954" y="4135">Sign Up/In</text>
<g transform="translate(100 4150)"><use href="#c"/><rect class="o" x="0" y="10" width="200" height="160"/><use href="#x"/>
<rect class="w" x="51" y="32.3" width="100" height="115.9" rx="3"/>
<rect class="d" x="80" y="42.4" width="40" height="7.9"/><rect class="l" x="76" y="56.4" width="50" height="3.5"/>
<rect class="d" x="60.4" y="72" width="20" height="3.5"/><rect class="p" x="60.4" y="78.2" width="80.3" height="11.8"/>
<rect class="d" x="60.4" y="98" width="30" height="3.5"/><rect class="p" x="60.4" y="104.4" width="80.3" height="11.9"/>
<use href="#bg" x="80" y="126.7"/></g>
<g transform="translate(351.3 4150)"><use href="#c"/><rect class="o" x="0" y="10" width="200" height="160"/><use href="#x"/>
<rect class="w" x="51" y="33" width="100" height="114.5" rx="3"/>
<rect class="d" x="60.4" y="43" width="30" height="3.5"/><rect class="p" x="60.4" y="51.3" width="80.3" height="11.9"/>
<rect class="d" x="60.4" y="69.3" width="20" height="3.5"/><rect class="p" x="60.4" y="75.5" width="80.3" height="12.3"/>
<rect class="d" x="60.4" y="95.5" width="40" height="3.5"/><rect class="p" x="60.4" y="101.7" width="80.3" height="12.3"/>
<use href="#bg" x="80" y="125.6"/></g>
<g transform="translate(602.7 4150)"><use href="#c"/><rect class="o" x="0" y="10" width="200" height="160"/><use href="#x"/>
<rect class="w" x="51" y="49.2" width="100" height="82.2" rx="3"/>
<rect class="d" x="80" y="59.2" width="40" height="7.8"/><rect class="l" x="76" y="73.2" width="50" height="3.5"/>
<rect class="p" x="60.4" y="87.2" width="80.3" height="11.8"/><use href="#bg" x="80" y="109.5"/></g>
<g transform="translate(854 4150)"><use href="#c"/><rect class="o" x="0" y="10" width="200" height="160"/><use href="#x"/>
<rect class="w" x="51" y="40.2" width="100" height="100.1" rx="3"/>
<rect class="d" x="80" y="50.3" width="40" height="7.9"/><rect class="l" x="76" y="64.3" width="50" height="3.5"/>
<rect class="p" x="60.4" y="78.2" width="80.3" height="11.9"/><rect class="p" x="60.4" y="96.5" width="80.3" height="11.5"/>
<use href="#bg" x="80" y="118.5"/></g>

<text x="200" y="4405">Settings</text><text x="451.3" y="4405">Settings</text><text x="702.7" y="4405">Settings</text><text x="954" y="4405">Social</text>
<g transform="translate(100 4420)"><use href="#c"/>
<rect class="p" x="30" y="30" width="32.6" height="32" rx="3"/>
<rect class="d" x="30" y="74.3" width="21" height="3.5"/><rect class="l" x="30" y="82" width="41" height="3.5"/><rect class="l" x="30" y="90" width="30" height="3.5"/>
<rect class="d" x="80" y="30" width="41" height="8"/><rect class="p" x="80" y="44" width="91" height="40.4" rx="3"/>
<rect class="d" x="80" y="94.4" width="30.5" height="3.5"/><rect class="l" x="80" y="102.3" width="49" height="3.5"/><use href="#ton" x="149" y="94.4"/>
<rect class="d" x="80" y="116.7" width="48.6" height="3.5"/><rect class="l" x="80" y="124.6" width="30" height="3.5"/><use href="#tof" x="149" y="116.7"/>
<rect class="d" x="80" y="138.5" width="41" height="3.5"/><rect class="l" x="80" y="146.6" width="21" height="3.5"/><use href="#tof" x="149" y="138.5"/></g>
<g transform="translate(351.3 4420)"><use href="#c"/>
<rect class="d" x="50" y="30" width="40.6" height="8"/><rect class="p" x="50" y="44" width="101" height="40.4" rx="3"/>
<rect class="d" x="50" y="94.4" width="30" height="3.5"/><rect class="l" x="50" y="102.3" width="49" height="3.5"/><use href="#ton" x="129" y="94.4"/>
<rect class="d" x="50" y="116.7" width="49" height="3.5"/><rect class="l" x="50" y="124.6" width="30" height="3.5"/><use href="#tof" x="129" y="116.7"/>
<use href="#bg" x="80" y="138.2"/></g>
<g transform="translate(602.7 4420)"><use href="#c"/><rect class="o" x="0" y="10" width="200" height="160"/><use href="#x"/>
<rect class="w" x="50" y="32.3" width="101" height="115.9" rx="3"/>
<rect class="d" x="60.4" y="44" width="30.2" height="3.5"/><rect class="p" x="60.4" y="50.3" width="80.6" height="12.2"/>
<rect class="d" x="60.4" y="68.2" width="20" height="3.5"/><rect class="l" x="60.4" y="76" width="39.6" height="3.5"/><use href="#ton" x="120" y="68.2"/>
<rect class="d" x="60.4" y="86.5" width="30.2" height="3.5"/><rect class="l" x="60.4" y="94.4" width="20" height="3.5"/><use href="#ton" x="120" y="86.5"/>
<rect class="d" x="60.4" y="104.4" width="25" height="3.5"/><rect class="l" x="60.4" y="112.4" width="39.6" height="3.5"/><use href="#tof" x="120" y="104.4"/>
<use href="#bg" x="80" y="126.7"/></g>
<g transform="translate(854 4420)"><use href="#c"/><rect class="o" x="0" y="10" width="200" height="36.3"/>
<rect class="p" x="30" y="30" width="32.6" height="32" rx="3"/>
<rect class="d" x="30" y="74.3" width="20" height="3.5"/><rect class="l" x="30" y="82.2" width="40" height="3.5"/><rect class="l" x="30" y="90" width="30" height="3.5"/>
<rect class="d" x="80" y="56.4" width="30.5" height="3.5"/><rect class="l" x="80" y="64.4" width="48.6" height="3.5"/><rect class="l" x="80" y="72.4" width="48.6" height="3.5"/><rect class="l" x="80" y="80.4" width="20" height="3.5"/>
<use href="#ton" x="149" y="56.4"/>
<rect class="d" x="80" y="96.2" width="30.5" height="3.5"/><rect class="p" x="80" y="102.7" width="91" height="25.4"/>
<use href="#bg" x="131" y="138.2"/></g>

<text x="200" y="4675">Dashboard</text><text x="451.3" y="4675">Dashboard</text><text x="702.7" y="4675">Dashboard</text><text x="954" y="4675">Dashboard</text>
<g transform="translate(100 4690)"><use href="#c"/>
<rect class="p" x="0" y="10" width="51" height="160"/>
<circle cx="83.3" cy="43" r="21.5" fill="none" stroke="#cdcdd1" stroke-width="3"/><path d="M83.3 21.5 A21.5 21.5 0 0 1 94 61.6" fill="none" stroke="#45b681" stroke-width="3"/>
<rect class="l" x="76" y="41.3" width="14.6" height="3.5"/>
<rect class="p" x="117" y="20" width="74" height="46" rx="3"/>
<rect class="b" x="60.4" y="76.5" width="130.6" height="13.5" rx="2"/>
<rect class="p" x="60.4" y="94.4" width="130.6" height="9.6"/><rect class="p" x="60.4" y="108.4" width="130.6" height="9.6"/><rect class="p" x="60.4" y="122.8" width="130.6" height="9.6"/><rect class="p" x="60.4" y="136.8" width="130.6" height="9.6"/><rect class="p" x="60.4" y="150.7" width="130.6" height="9.7" rx="2"/></g>
<g transform="translate(351.3 4690)"><use href="#c"/>
<rect class="o" x="50" y="10" width="150" height="160"/><rect class="w" x="60.4" y="40.2" width="130.6" height="100.1"/>
<rect class="p" x="4.4" y="14.4" width="42" height="7.6"/>
<rect class="p" x="4.4" y="24" width="17.7" height="20"/><rect class="p" x="26.5" y="24" width="19.9" height="20"/>
<rect class="p" x="4.4" y="46.3" width="17.7" height="19.7"/><rect class="p" x="26.5" y="46.3" width="19.9" height="19.7"/>
<rect class="p" x="4.4" y="68.2" width="17.7" height="19.8"/><rect class="p" x="26.5" y="68.2" width="19.9" height="19.8"/>
<rect class="p" x="4.4" y="90.5" width="19.9" height="19.5"/></g>
<g transform="translate(602.7 4690)"><use href="#c"/><use href="#dn"/>
<rect class="p" x="151" y="24" width="49" height="146"/>
<rect class="p" x="10.3" y="34" width="130.7" height="26" rx="3"/>
<circle cx="33" cy="93.3" r="21.5" fill="none" stroke="#cdcdd1" stroke-width="3"/><path d="M33 71.8 A21.5 21.5 0 0 1 43.75 111.9" fill="none" stroke="#45b681" stroke-width="3"/>
<rect class="l" x="26" y="91.5" width="14" height="3.5"/>
<rect class="p" x="66.3" y="70.4" width="74.7" height="45.9" rx="3"/>
<rect class="d" x="10.3" y="127" width="30.2" height="8"/><rect class="l" x="10.3" y="142.5" width="45" height="3.5"/><rect class="l" x="10.3" y="150.5" width="45" height="3.5"/><rect class="l" x="10.3" y="158.8" width="20" height="3.5"/>
<rect class="d" x="66.3" y="128.5" width="20" height="3.5"/><rect class="l" x="66.3" y="136.6" width="74.7" height="3.5"/><rect class="d" x="66.3" y="150.4" width="20" height="3.5"/><rect class="l" x="66.3" y="158.4" width="74.7" height="3.5"/></g>
<g transform="translate(854 4690)"><use href="#c"/><use href="#dn"/>
<rect class="p" x="150.3" y="24" width="49.7" height="146"/>
<rect class="d" x="10.3" y="35.9" width="19.7" height="3.6"/><rect class="l" x="10.3" y="43.8" width="94.7" height="3.5"/><use href="#ton" x="120" y="34"/>
<rect class="p" x="10.3" y="56.4" width="28" height="80" rx="3"/><rect class="p" x="44.2" y="56.4" width="28" height="104" rx="3"/><rect class="p" x="78" y="56.4" width="28" height="90" rx="3"/><rect class="p" x="112.7" y="56.4" width="28" height="59.9" rx="3"/></g>

<text x="200" y="4945">Footer</text><text x="451.3" y="4945">Footer</text><text x="702.7" y="4945">Footer</text><text x="954" y="4945">Footer</text>
<g transform="translate(100 4960)"><rect class="b" width="200" height="26"/>
<ellipse class="lt" cx="13" cy="12.7" rx="1.8" ry="2.6"/><rect class="lt" x="21" y="12" width="9" height="1.6"/>
<rect class="lt" x="141" y="12" width="10" height="1.6"/><rect class="lt" x="161" y="12" width="10" height="1.6"/><rect class="lt" x="181" y="12" width="10" height="1.6"/></g>
<g transform="translate(351.3 4960)"><rect class="b" width="200" height="44"/>
<ellipse class="lt" cx="13" cy="12.7" rx="1.8" ry="2.6"/><rect class="lt" x="21" y="12" width="9" height="1.6"/>
<rect class="lt" x="10.3" y="20.3" width="60.7" height="1.6"/><rect class="lt" x="10.3" y="26.3" width="50" height="1.6"/><rect class="lt" x="10.3" y="32.3" width="20" height="1.6"/>
<ellipse class="lt" cx="112" cy="12.7" rx="1.5" ry="2.6"/><ellipse class="lt" cx="143" cy="12.7" rx="1.5" ry="2.6"/><ellipse class="lt" cx="173" cy="12.7" rx="1.5" ry="2.6"/>
<rect class="lt" x="110" y="20.3" width="20" height="1.6"/><rect class="lt" x="140" y="20.3" width="20" height="1.6"/><rect class="lt" x="171" y="20.3" width="20" height="1.6"/>
<rect class="lt" x="110" y="26.3" width="15" height="1.6"/><rect class="lt" x="140" y="26.3" width="15" height="1.6"/><rect class="lt" x="171" y="26.3" width="15" height="1.6"/>
<rect class="lt" x="110" y="32.3" width="10" height="1.6"/><rect class="lt" x="140" y="32.3" width="10" height="1.6"/><rect class="lt" x="171" y="32.3" width="10" height="1.6"/></g>
<g transform="translate(602.7 4960)"><rect class="b" width="200" height="50"/>
<rect class="lt" x="70" y="10.3" width="60" height="1.6"/><rect class="lt" x="75" y="16.3" width="51" height="1.6"/><rect class="lt" x="90.5" y="22.3" width="19.5" height="1.6"/>
<ellipse class="lt" cx="13" cy="37" rx="1.8" ry="2.6"/><rect class="lt" x="21" y="36.3" width="9" height="1.6"/>
<rect class="lt" x="141" y="36.3" width="10" height="1.6"/><rect class="lt" x="161" y="36.3" width="10" height="1.6"/><rect class="lt" x="181" y="36.3" width="10" height="1.6"/></g>
<g transform="translate(854 4960)"><rect class="b" width="200" height="90"/>
<rect class="lt" x="85.5" y="10" width="30.5" height="4"/><rect class="lt" x="60.4" y="18" width="80.6" height="12"/>
<rect x="80" y="34.3" width="40" height="11.4" rx="5.7" fill="#fff"/><rect class="b" x="93" y="39.2" width="14" height="1.6"/>
<ellipse class="lt" cx="13" cy="59" rx="1.8" ry="2.6"/><rect class="lt" x="21" y="58.3" width="9" height="1.6"/>
<rect class="lt" x="10.3" y="66.3" width="60" height="1.6"/><rect class="lt" x="10.3" y="72.3" width="50" height="1.6"/><rect class="lt" x="10.3" y="78.3" width="20" height="1.6"/>
<ellipse class="lt" cx="113.5" cy="59" rx="1.5" ry="2.6"/><ellipse class="lt" cx="143.7" cy="59" rx="1.5" ry="2.6"/><ellipse class="lt" cx="174" cy="59" rx="1.5" ry="2.6"/>
<rect class="lt" x="110" y="66.3" width="20" height="1.6"/><rect class="lt" x="140" y="66.3" width="20" height="1.6"/><rect class="lt" x="170" y="66.3" width="21" height="1.6"/>
<rect class="lt" x="110" y="72.3" width="15" height="1.6"/><rect class="lt" x="140" y="72.3" width="15" height="1.6"/><rect class="lt" x="170" y="72.3" width="15" height="1.6"/>
<rect class="lt" x="110" y="78.3" width="10" height="1.6"/><rect class="lt" x="140" y="78.3" width="10" height="1.6"/><rect class="lt" x="170" y="78.3" width="10" height="1.6"/></g>
</svg>
</body></html>
